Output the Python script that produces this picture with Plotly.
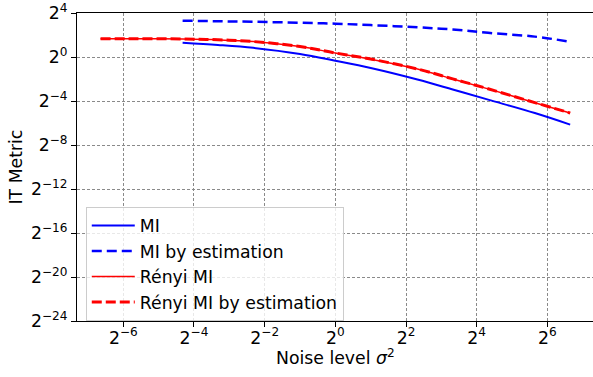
import plotly.graph_objects as go
import math

# Noise level sigma^2
noise = [0.01, 0.02, 0.05, 0.1, 0.2, 0.5, 1, 2, 5, 10, 20, 50, 100]
noise_mi = [0.05, 0.1, 0.2, 0.5, 1, 2, 5, 10, 20, 50, 100]

mi = [2.46, 2.14, 1.78, 1.21, 0.79, 0.5, 0.242, 0.129, 0.068, 0.0292, 0.0141]
mi_est = [9.85, 9.51, 9.19, 8.69, 8.17, 7.46, 6.50, 5.66, 4.59, 3.61, 2.62]
renyi = [3.16, 3.16, 3.10, 2.95, 2.64, 1.93, 1.28, 0.87, 0.467, 0.25, 0.134, 0.0563, 0.0292]
renyi_est = [3.17, 3.16, 3.11, 2.96, 2.65, 1.94, 1.29, 0.88, 0.47, 0.252, 0.135, 0.0565, 0.0293]

x_exps = [-6, -4, -2, 0, 2, 4, 6]
y_exps = [-24, -20, -16, -12, -8, -4, 0, 4]

def lab(e):
    s = str(e).replace("-", "\u2212")
    return f"2<sup>{s}</sup>"

FONT = "DejaVu Sans"
FS = 17.3

fig = go.Figure()
fig.add_trace(go.Scatter(x=noise_mi, y=mi, mode="lines", name="MI",
                         line=dict(color="blue", width=2, shape="spline")))
fig.add_trace(go.Scatter(x=noise_mi, y=mi_est, mode="lines", name="MI by estimation",
                         line=dict(color="blue", width=2.5, dash="10px,5px", shape="spline")))
fig.add_trace(go.Scatter(x=noise, y=renyi, mode="lines", name="Rényi MI",
                         line=dict(color="red", width=1.5, shape="spline")))
fig.add_trace(go.Scatter(x=noise, y=renyi_est, mode="lines", name="Rényi MI by estimation",
                         line=dict(color="red", width=3, dash="10px,4px", shape="spline")))

l2 = math.log10(2)
axis_common = dict(showline=True, linecolor="black", linewidth=1, mirror=True,
                   ticks="outside", ticklen=5, tickcolor="black",
                   showgrid=True, gridcolor="#8a8a8a", griddash="3px,2px", gridwidth=1,
                   zeroline=False, automargin=False,
                   tickfont=dict(size=FS, color="black", family=FONT))

fig.update_layout(
    width=593, height=377,
    margin=dict(l=77, r=0, t=13, b=56),
    plot_bgcolor="white", paper_bgcolor="white",
    font=dict(family=FONT, color="black", size=FS),
    xaxis=dict(type="log", range=[-7.31 * l2, 7.29 * l2],
               tickvals=[2.0 ** e for e in x_exps], ticktext=[lab(e) for e in x_exps],
               ticklabelstandoff=-4,
               **axis_common),
    yaxis=dict(type="log", range=[-24 * l2, 4 * l2],
               tickvals=[2.0 ** e for e in y_exps], ticktext=[lab(e) for e in y_exps],
               **axis_common),
    legend=dict(x=0.017, y=0.371, xanchor="left", yanchor="top",
                bgcolor="rgba(255,255,255,0.8)", bordercolor="#cccccc", borderwidth=1,
                font=dict(size=FS, family=FONT), tracegroupgap=0, itemwidth=43),
    showlegend=True,
    annotations=[
        dict(text="Noise level <i>σ</i><sup>2</sup>", xref="paper", yref="paper",
             x=0.5, y=-0.116, xanchor="center", yanchor="middle", showarrow=False,
             font=dict(size=FS, family=FONT)),
        dict(text="IT Metric", xref="paper", yref="paper",
             x=(15.5 - 77) / 516, y=0.5, xanchor="center", yanchor="middle",
             textangle=-90, showarrow=False, font=dict(size=FS, family=FONT)),
    ],
)

fig.write_html("out.html", config={"displayModeBar": False},
               post_script="document.body.style.margin='0';document.body.style.padding='0';")
